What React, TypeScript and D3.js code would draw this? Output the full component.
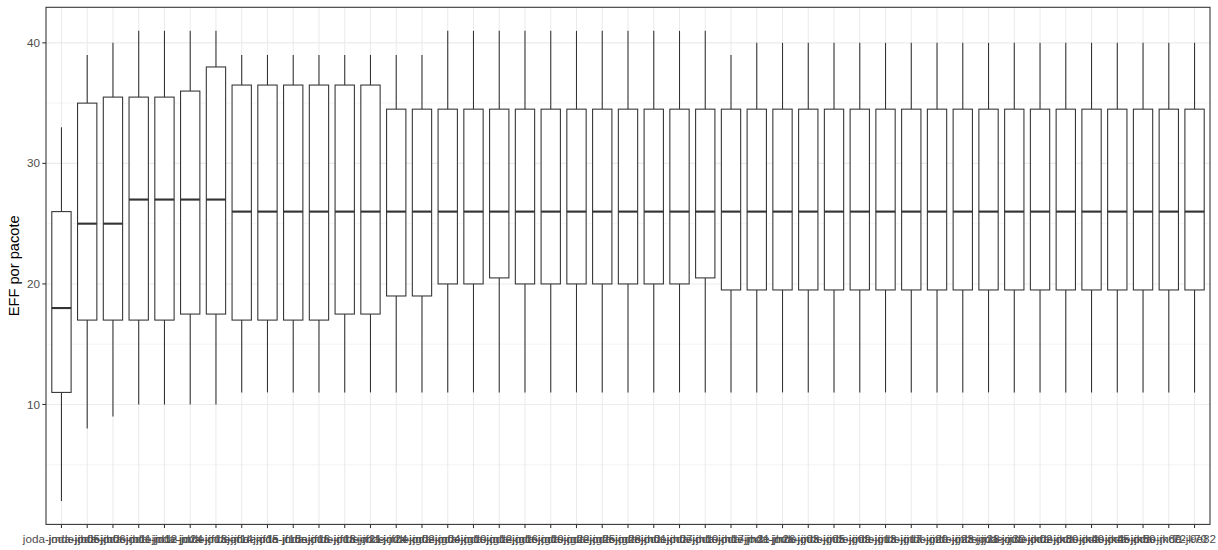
import React from "react";
import * as d3 from "d3";

const categories: string[] = [
  "joda-jmde-jb05", "joda-jmde-jb06", "joda-jmde-jb11", "joda-jmde-jd12", "joda-jmde-jd24",
  "joda-jmde-jf13", "joda-jmde-jf14", "joda-jmde-jf15", "joda-jmde-jf15a", "joda-jmde-jf16",
  "joda-jmde-jf18", "joda-jmde-jf21", "joda-jmde-jf24", "joda-jmde-jg02", "joda-jmde-jg04",
  "joda-jmde-jg10", "joda-jmde-jg12", "joda-jmde-jg16", "joda-jmde-jg19", "joda-jmde-jg22",
  "joda-jmde-jg25", "joda-jmde-jg28", "joda-jmde-jh01", "joda-jmde-jh07", "joda-jmde-jh10",
  "joda-jmde-jh17", "joda-jmde-jh21", "joda-jmde-jh26", "joda-jmde-jj03", "joda-jmde-jj05",
  "joda-jmde-jj09", "joda-jmde-jj13", "joda-jmde-jj17", "joda-jmde-jj20", "joda-jmde-jj23",
  "joda-jmde-jj28", "joda-jmde-jj30", "joda-jmde-jk02", "joda-jmde-jk30", "joda-jmde-jk40",
  "joda-jmde-jk45", "joda-jmde-jk50", "joda-jmde-jk60", "joda-jmde-jk70", "72-9e82",
];

const lowerWhisker: number[] = [
  2, 8, 9, 10, 10, 10, 10, 11, 11, 11, 11, 11, 11, 11, 11,
  11, 11, 11, 11, 11, 11, 11, 11, 11, 11, 11, 11, 11, 11, 11,
  11, 11, 11, 11, 11, 11, 11, 11, 11, 11, 11, 11, 11, 11, 11,
];
const q1: number[] = [
  11, 17, 17, 17, 17, 17.5, 17.5, 17, 17, 17, 17, 17.5, 17.5, 19, 19,
  20, 20, 20.5, 20, 20, 20, 20, 20, 20, 20, 20.5, 19.5, 19.5, 19.5, 19.5,
  19.5, 19.5, 19.5, 19.5, 19.5, 19.5, 19.5, 19.5, 19.5, 19.5, 19.5, 19.5, 19.5, 19.5, 19.5,
];
const median: number[] = [
  18, 25, 25, 27, 27, 27, 27, 26, 26, 26, 26, 26, 26, 26, 26,
  26, 26, 26, 26, 26, 26, 26, 26, 26, 26, 26, 26, 26, 26, 26,
  26, 26, 26, 26, 26, 26, 26, 26, 26, 26, 26, 26, 26, 26, 26,
];
const q3: number[] = [
  26, 35, 35.5, 35.5, 35.5, 36, 38, 36.5, 36.5, 36.5, 36.5, 36.5, 36.5, 34.5, 34.5,
  34.5, 34.5, 34.5, 34.5, 34.5, 34.5, 34.5, 34.5, 34.5, 34.5, 34.5, 34.5, 34.5, 34.5, 34.5,
  34.5, 34.5, 34.5, 34.5, 34.5, 34.5, 34.5, 34.5, 34.5, 34.5, 34.5, 34.5, 34.5, 34.5, 34.5,
];
const upperWhisker: number[] = [
  33, 39, 40, 41, 41, 41, 41, 39, 39, 39, 39, 39, 39, 39, 39,
  41, 41, 41, 41, 41, 41, 41, 41, 41, 41, 41, 39, 40, 40, 40,
  40, 40, 40, 40, 40, 40, 40, 40, 40, 40, 40, 40, 40, 40, 40,
];

const yTicks: number[] = [10, 20, 30, 40];
const yMinor: number[] = [5, 15, 25, 35];
const yTitle = "EFF por pacote";

const W = 1218;
const H = 550;
const panel = { left: 46, right: 1210, top: 7.3, bottom: 524.4 };
const ink = "#333333";
const gridCol = "#EBEBEB";
const textCol = "#4D4D4D";
const font = "'Liberation Sans', Arial, sans-serif";

export default function App() {
  const n = categories.length;
  const x = d3
    .scaleLinear()
    .domain([0.4, n + 0.6])
    .range([panel.left, panel.right]);
  const allVals = lowerWhisker.concat(upperWhisker);
  const lo = d3.min(allVals) as number;
  const hi = d3.max(allVals) as number;
  const pad = (hi - lo) * 0.05;
  const y = d3
    .scaleLinear()
    .domain([lo - pad, hi + pad])
    .range([panel.bottom, panel.top]);
  const band = x(2) - x(1);
  const bw = band * 0.75;

  return (
    <svg
      width={W}
      height={H}
      style={{ position: "absolute", left: 0, top: 0, background: "#fff" }}
      fontFamily={font}
    >
      <rect x={0} y={0} width={W} height={H} fill="#fff" />
      {yMinor.map((v) => (
        <line
          key={"ym" + v}
          x1={panel.left}
          x2={panel.right}
          y1={y(v)}
          y2={y(v)}
          stroke={gridCol}
          strokeWidth={0.55}
        />
      ))}
      {yTicks.map((v) => (
        <line
          key={"yg" + v}
          x1={panel.left}
          x2={panel.right}
          y1={y(v)}
          y2={y(v)}
          stroke={gridCol}
          strokeWidth={1.07}
        />
      ))}
      {categories.map((c, i) => (
        <line
          key={"xg" + i}
          x1={x(i + 1)}
          x2={x(i + 1)}
          y1={panel.top}
          y2={panel.bottom}
          stroke={gridCol}
          strokeWidth={1.07}
        />
      ))}
      {categories.map((c, i) => {
        const cx = x(i + 1);
        return (
          <g key={"b" + i} stroke={ink} strokeWidth={1.07} fill="#fff">
            <line x1={cx} x2={cx} y1={y(upperWhisker[i])} y2={y(q3[i])} />
            <line x1={cx} x2={cx} y1={y(q1[i])} y2={y(lowerWhisker[i])} />
            <rect
              x={cx - bw / 2}
              y={y(q3[i])}
              width={bw}
              height={y(q1[i]) - y(q3[i])}
            />
            <line
              x1={cx - bw / 2}
              x2={cx + bw / 2}
              y1={y(median[i])}
              y2={y(median[i])}
              strokeWidth={2.13}
            />
          </g>
        );
      })}
      <rect
        x={panel.left}
        y={panel.top}
        width={panel.right - panel.left}
        height={panel.bottom - panel.top}
        fill="none"
        stroke={ink}
        strokeWidth={1.07}
      />
      {yTicks.map((v) => (
        <g key={"yt" + v}>
          <line
            x1={panel.left - 3.7}
            x2={panel.left}
            y1={y(v)}
            y2={y(v)}
            stroke={ink}
            strokeWidth={1.07}
          />
          <text
            x={panel.left - 6}
            y={y(v)}
            dy="0.35em"
            textAnchor="end"
            fontSize={11.7}
            fill={textCol}
          >
            {v}
          </text>
        </g>
      ))}
      {categories.map((c, i) => (
        <g key={"xt" + i}>
          <line
            x1={x(i + 1)}
            x2={x(i + 1)}
            y1={panel.bottom}
            y2={panel.bottom + 3.7}
            stroke={ink}
            strokeWidth={1.07}
          />
          <text
            x={x(i + 1)}
            y={panel.bottom + 18.5}
            textAnchor="middle"
            fontSize={11.7}
            fill={textCol}
          >
            {c}
          </text>
        </g>
      ))}
      <text
        transform={`translate(19,${(panel.top + panel.bottom) / 2}) rotate(-90)`}
        textAnchor="middle"
        fontSize={14.67}
        fill="#000"
      >
        {yTitle}
      </text>
    </svg>
  );
}
